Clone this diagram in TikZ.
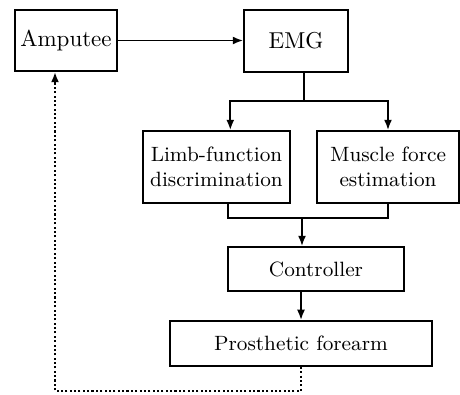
\documentclass[tikz,border=0pt]{standalone}
\usetikzlibrary{arrows.meta}
\tikzset{
  blockbox/.style={draw,line width=0.8pt,align=center,inner sep=1pt},
  smallbox/.style={blockbox,font=\small},
  link/.style={line width=0.8pt,-{Latex[length=4.5pt,width=3.5pt]}},
  feedback/.style={line width=0.9pt,densely dotted,-{Latex[length=4.5pt,width=3.5pt]}}
}
\begin{document}
\begin{tikzpicture}[x=0.435pt,y=-0.435pt]
    \useasboundingbox (0,0) rectangle (460,394);
    % blocks
    \node[blockbox,minimum width=44.4pt,minimum height=26.5pt] (amputee) at (66,40.5) {Amputee};
    \node[blockbox,minimum width=45.2pt,minimum height=27pt] (emg) at (296,41) {EMG};
    \node[smallbox,minimum width=63.9pt,minimum height=31.3pt] (limb) at (216.5,167)
      {Limb-function\\discrimination};
    \node[smallbox,minimum width=61.8pt,minimum height=31.3pt] (muscle) at (388,167)
      {Muscle force\\estimation};
    \node[smallbox,minimum width=76.6pt,minimum height=19.1pt] (ctrl) at (316,269) {Controller};
    \node[smallbox,minimum width=114pt,minimum height=19.6pt] (forearm) at (301,343.5)
      {Prosthetic forearm};
    % signal path
    \coordinate (split) at (304,101);
    \coordinate (merge) at (302,218);
    \coordinate (loop) at (55,391);
    \draw[link] (amputee.east) -- (emg.west |- amputee.east);
    \draw[line width=0.8pt] (emg.south -| split) -- (split);
    \draw[link] (split) -| ([xshift=6pt]limb.north);
    \draw[link] (split) -| (muscle.north);
    \draw[line width=0.8pt] ([xshift=5pt]limb.south) |- (merge) -| (muscle.south);
    \draw[link] (merge) -- (ctrl.north -| merge);
    \draw[link] (ctrl.south -| forearm) -- (forearm.north);
    % feedback
    \draw[feedback] (forearm.south) |- (loop) -- (loop |- amputee.south);
\end{tikzpicture}
\end{document}
